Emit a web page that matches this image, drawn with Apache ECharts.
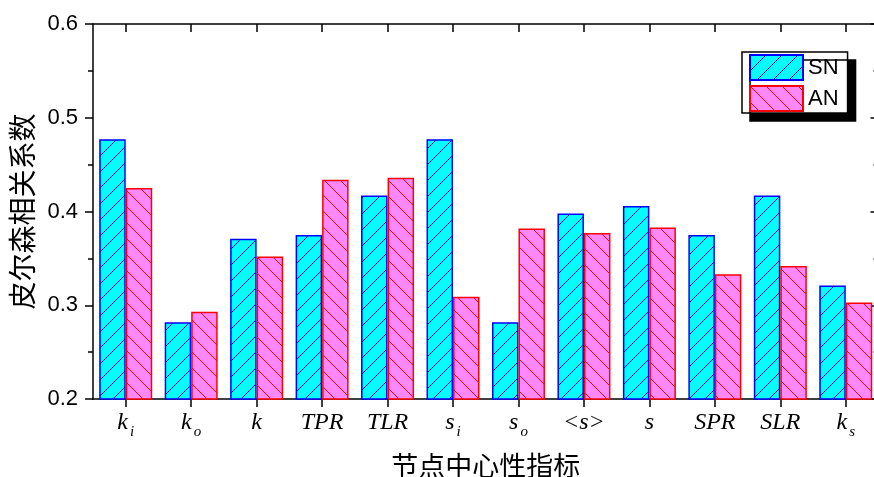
<!DOCTYPE html>
<html>
<head>
<meta charset="utf-8">
<script src="https://cdn.jsdelivr.net/npm/echarts@6/dist/echarts.min.js"></script>
<style>html,body{margin:0;padding:0;background:#fff}#c{width:874px;height:477px}</style>
</head>
<body>
<div id="c"></div>
<script>
const categories = ['k_i','k_o','k','TPR','TLR','s_i','s_o','<s>','s','SPR','SLR','k_s'];
const snValues = [0.477, 0.282, 0.371, 0.375, 0.417, 0.477, 0.282, 0.398, 0.406, 0.375, 0.417, 0.321];
const anValues = [0.425, 0.293, 0.352, 0.434, 0.436, 0.309, 0.382, 0.377, 0.383, 0.333, 0.342, 0.303];
const yMin = 0.2, yMax = 0.6, yInterval = 0.1;

function makePattern(bg, line, dir) {
  const s = 16;
  const c = document.createElement('canvas');
  c.width = s; c.height = s;
  const ctx = c.getContext('2d');
  ctx.fillStyle = bg; ctx.fillRect(0, 0, s, s);
  ctx.strokeStyle = line; ctx.lineWidth = 1;
  ctx.beginPath();
  for (const k of [-s, 0, s]) {
    if (dir === '/') { ctx.moveTo(k, s); ctx.lineTo(k + s, 0); }
    else { ctx.moveTo(k, 0); ctx.lineTo(k + s, s); }
  }
  ctx.stroke();
  return { image: c, repeat: 'repeat' };
}

const chart = echarts.init(document.getElementById('c'), null, { renderer: 'canvas' });
const serif = '"Liberation Serif","Times New Roman",serif';
const sans = '"Liberation Sans",Arial,sans-serif';
const cjk = '"Noto Sans CJK SC",sans-serif';

const option = {
  animation: false,
  backgroundColor: '#fff',
  grid: { left: 93, top: 24, width: 785.5, height: 375, containLabel: false, outerBoundsMode: 'none' },
  legend: {
    orient: 'vertical', left: 742, top: 52,
    padding: [2, 9, 1, 7], itemGap: 4, itemWidth: 53, itemHeight: 25,
    icon: 'rect',
    backgroundColor: '#fff', borderColor: '#000', borderWidth: 1.5, borderRadius: 0,
    shadowColor: '#000', shadowBlur: 0, shadowOffsetX: 8, shadowOffsetY: 8,
    textStyle: { fontFamily: sans, fontSize: 22, color: '#000' },
    data: ['SN', 'AN']
  },
  xAxis: [{
    type: 'category', data: categories, position: 'bottom',
    name: '节点中心性指标', nameLocation: 'middle', nameGap: 53,
    nameTextStyle: { fontFamily: cjk, fontSize: 27, color: '#000' },
    axisLine: { lineStyle: { color: '#000', width: 1.5 } },
    axisTick: { show: true, alignWithLabel: true, inside: false, length: 8, lineStyle: { color: '#000', width: 1.5 } },
    axisLabel: {
      margin: 12, interval: 0, color: '#000',
      formatter: function (v) {
        const p = v.split('_');
        return p.length > 1 ? '{m|' + p[0] + '}{s|' + p[1] + '}' : '{m|' + v + '}';
      },
      rich: {
        m: { fontFamily: serif, fontStyle: 'italic', fontSize: 24, lineHeight: 24, verticalAlign: 'top', color: '#000' },
        s: { fontFamily: serif, fontStyle: 'italic', fontSize: 15, lineHeight: 15, padding: [14, 0, 0, 2], verticalAlign: 'top', color: '#000' }
      }
    },
    splitLine: { show: false }
  }, {
    type: 'category', data: categories, position: 'top',
    axisLine: { lineStyle: { color: '#000', width: 1.5 } },
    axisTick: { show: true, alignWithLabel: true, inside: true, length: 8, lineStyle: { color: '#000', width: 1.5 } },
    axisLabel: { show: false }, splitLine: { show: false }
  }],
  yAxis: [{
    type: 'value', min: yMin, max: yMax, interval: yInterval, position: 'left',
    name: '皮尔森相关系数', nameLocation: 'middle', nameGap: 57, nameRotate: 90,
    nameTextStyle: { fontFamily: cjk, fontSize: 28, color: '#000' },
    axisLine: { show: true, lineStyle: { color: '#000', width: 1.5 } },
    axisTick: { show: true, inside: false, length: 8, lineStyle: { color: '#000', width: 1.5 } },
    minorTick: { show: true, splitNumber: 2, length: 5, lineStyle: { color: '#000', width: 1.5 } },
    axisLabel: { margin: 15, fontFamily: sans, fontSize: 22, color: '#000', formatter: v => v.toFixed(1) },
    splitLine: { show: false }
  }, {
    type: 'value', min: yMin, max: yMax, interval: yInterval, position: 'right',
    axisLine: { show: true, lineStyle: { color: '#000', width: 1.5 } },
    axisTick: { show: true, inside: true, length: 8, lineStyle: { color: '#000', width: 1.5 } },
    minorTick: { show: true, splitNumber: 2, length: 5, lineStyle: { color: '#000', width: 1.5 } },
    axisLabel: { show: false }, splitLine: { show: false }
  }],
  series: [{
    name: 'SN', type: 'bar', data: snValues, barWidth: 26.5, barGap: '0%',
    itemStyle: { color: makePattern('#00FFFF', '#0000FF', '/'), borderColor: '#0000FF', borderWidth: 1.5 }
  }, {
    name: 'AN', type: 'bar', data: anValues, barWidth: 26.5, barGap: '0%',
    itemStyle: { color: makePattern('#FF88FF', '#FF0000', '\\'), borderColor: '#FF0000', borderWidth: 1.5 }
  }]
};
chart.setOption(option);
</script>
</body>
</html>
